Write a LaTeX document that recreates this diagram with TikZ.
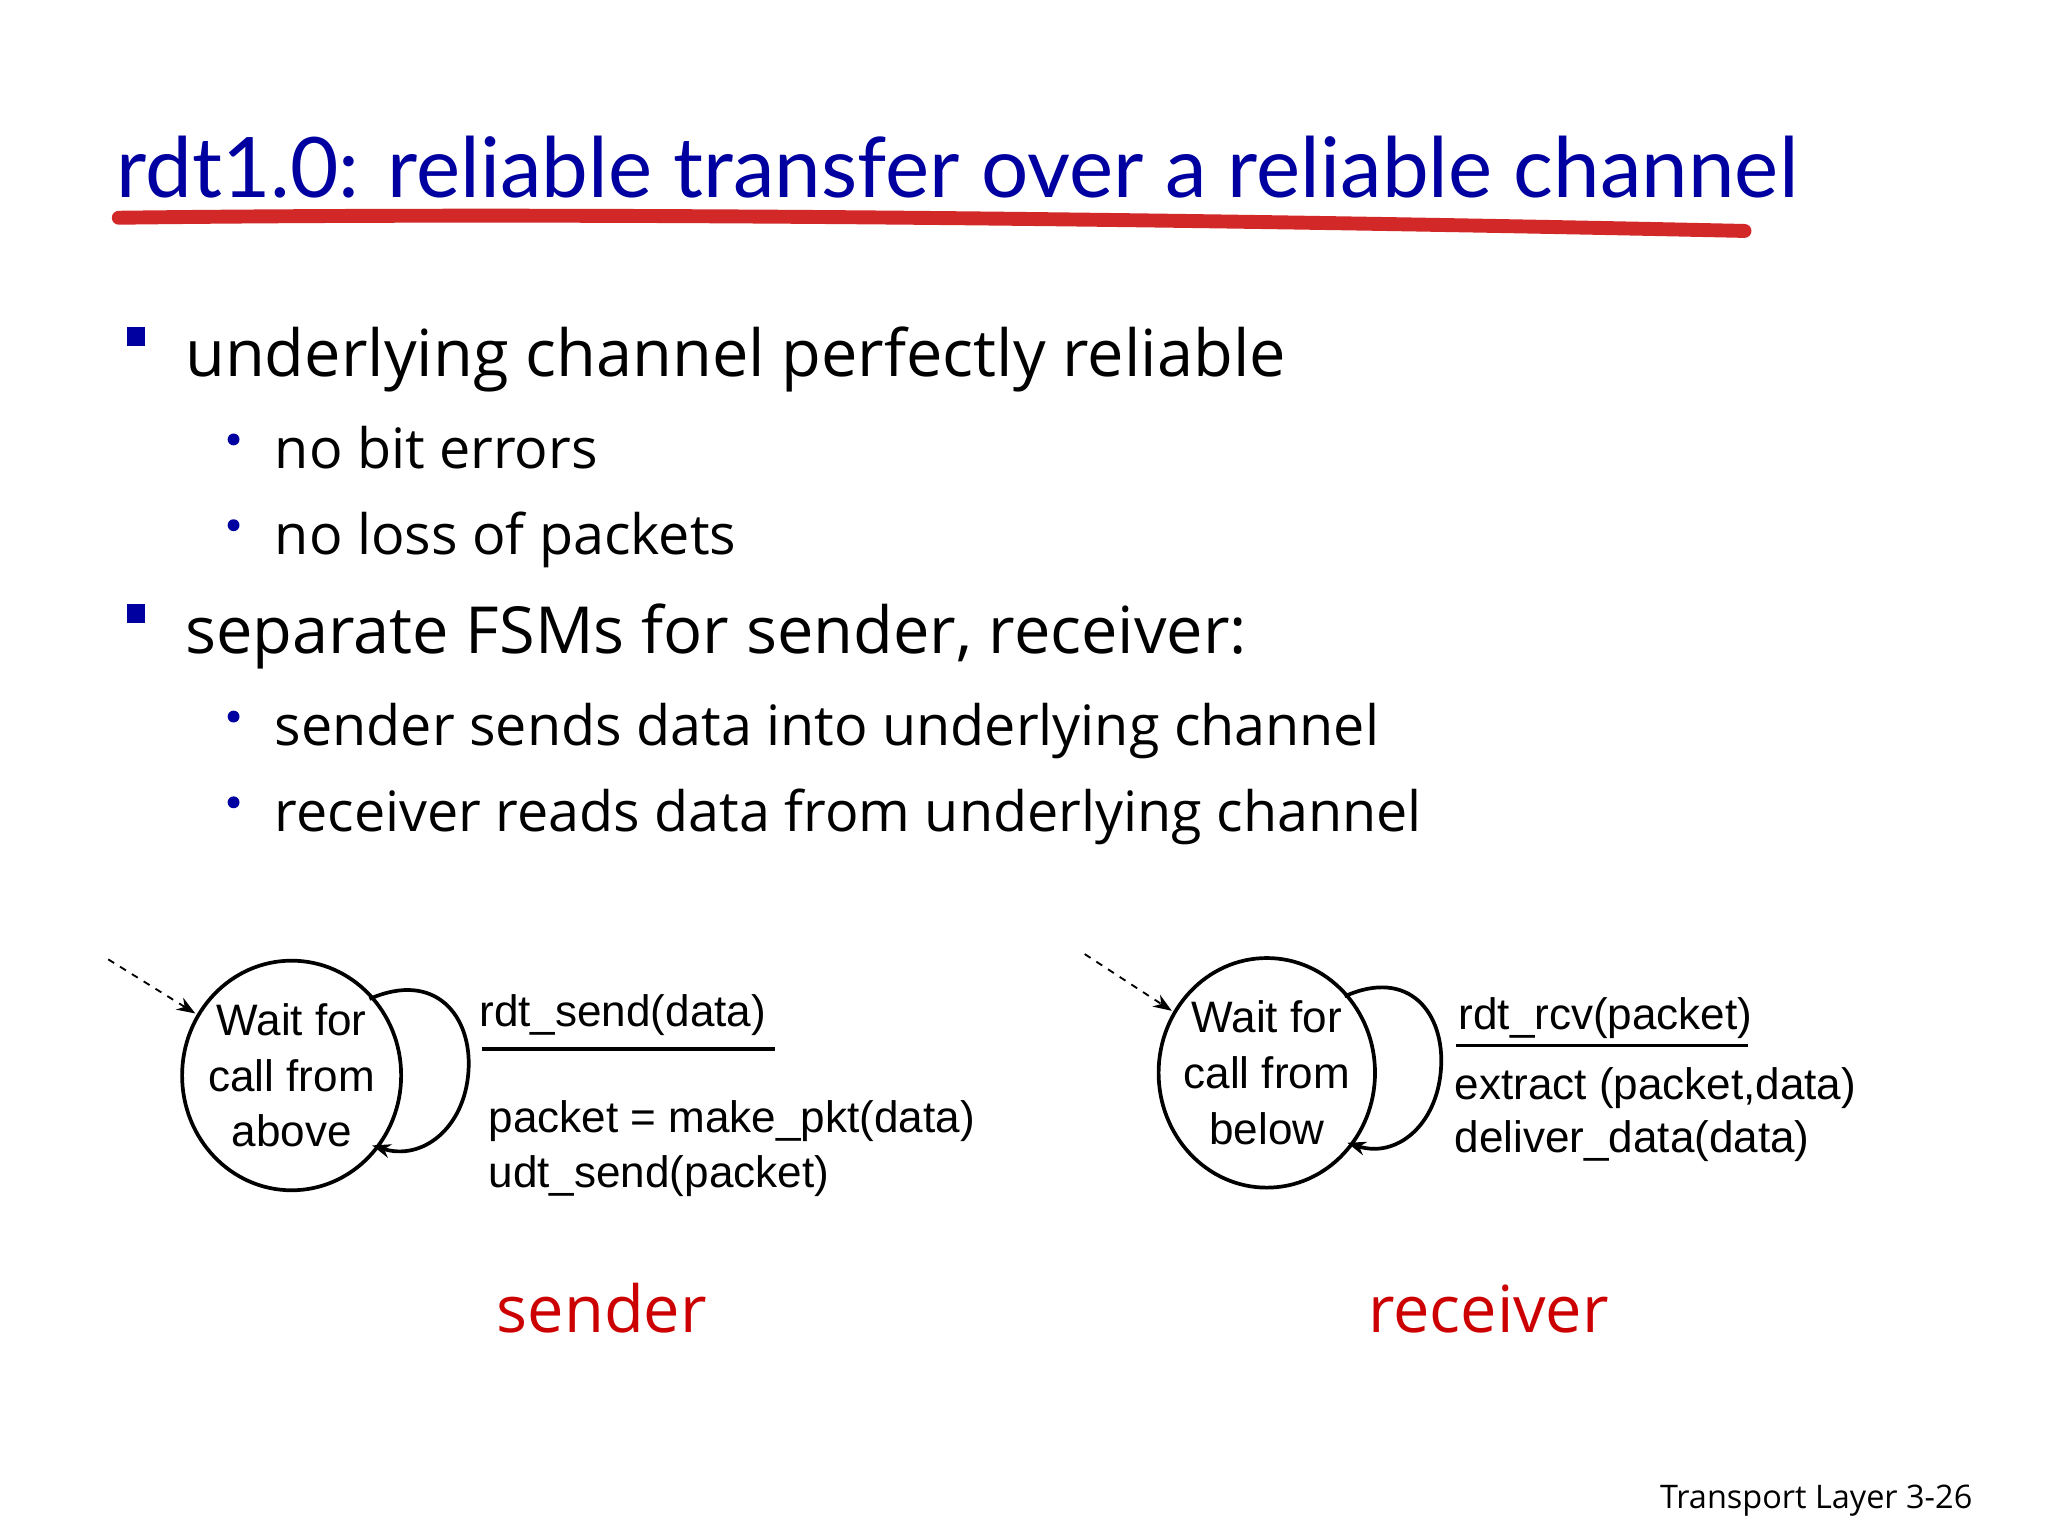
\documentclass[tikz,border=0pt]{standalone}
\usepackage{fontspec}
\setmainfont{Open Sans}
\newfontfamily\titlefont{Lato}
\newfontfamily\arialf{Liberation Sans}
\usetikzlibrary{arrows.meta}
\definecolor{tblue}{RGB}{0,0,160}
\definecolor{tred}{RGB}{204,0,0}
\definecolor{ured}{RGB}{210,40,40}
\begin{document}
\begin{tikzpicture}[x=0.02cm,y=-0.02cm,
  txt/.style={inner sep=0pt,anchor=base west},
  big/.style={txt,font=\fontsize{28}{30}\selectfont},
  sub/.style={txt,font=\fontsize{24}{26}\selectfont},
  fsm/.style={txt,font=\arialf\fontsize{19}{22}\selectfont},
  state/.style={draw,line width=1.6pt,ellipse,minimum width=166\pgflinewidth,inner sep=0pt},
  sq/.style={fill=tblue,minimum size=14*0.02cm,inner sep=0pt},
  dot/.style={circle,fill=tblue,minimum size=9*0.02cm,inner sep=0pt},
  loop/.style={line width=1.6pt,-{Stealth[length=8pt,width=6pt]}},
  init/.style={dashed,line width=0.8pt,-{Stealth[length=8pt,width=6pt]}}]
\useasboundingbox (0,0) rectangle (1552,1164);
\fill[white] (0,0) rectangle (1552,1164);
\node[txt,text=tblue,font=\titlefont\fontsize{36}{40}\selectfont] (title) at (88,150) {rdt1.0: reliable transfer over a reliable channel};
\draw[ured,line width=6pt,line cap=round] (90,165) .. controls (500,160) and (1000,168) .. (1322,175);
\node[sq] (s1) at (103,255) {};
\node[big] (b1) at (140,285) {underlying channel perfectly reliable};
\node[dot] (d1) at (177,333) {};
\node[sub] (t1) at (208,355) {no bit errors};
\node[dot] (d2) at (177,398) {};
\node[sub] (t2) at (208,420) {no loss of packets};
\node[sq] (s2) at (103,465) {};
\node[big] (b2) at (140,495) {separate FSMs for sender, receiver:};
\node[dot] (d3) at (177,543) {};
\node[sub] (t3) at (208,565) {sender sends data into underlying channel};
\node[dot] (d4) at (177,608) {};
\node[sub] (t4) at (208,630) {receiver reads data from underlying channel};
% sender
\draw[line width=1.6pt] (221,815) ellipse [x radius=83, y radius=87];
\node[font=\arialf\fontsize{19}{24}\selectfont,align=center] (sA) at (221,815) {Wait for\\call from\\above};
\draw[loop] (280,757) .. controls (330,735) and (358,770) .. (355,812) .. controls (352,855) and (320,880) .. (282,868);
\coordinate (sI) at (82,727);
\draw[init] (sI) -- (148,768);
\node[fsm] (se) at (363,778) {rdt\_send(data)};
\draw[line width=1.4pt] (365,795) -- (587,795);
\node[fsm] (sa1) at (370,858) {packet = make\_pkt(data)};
\node[fsm] (sa2) at (370,900) {udt\_send(packet)};
% receiver
\draw[line width=1.6pt] (960,813) ellipse [x radius=82, y radius=87];
\node[font=\arialf\fontsize{19}{24}\selectfont,align=center] (rA) at (960,813) {Wait for\\call from\\below};
\draw[loop] (1019,755) .. controls (1068,733) and (1095,768) .. (1092,810) .. controls (1089,853) and (1058,878) .. (1021,866);
\coordinate (rI) at (822,723);
\draw[init] (rI) -- (888,766);
\node[fsm] (re) at (1105,780) {rdt\_rcv(packet)};
\draw[line width=1.4pt] (1103,792) -- (1325,792);
\node[fsm] (ra1) at (1102,833) {extract (packet,data)};
\node[fsm] (ra2) at (1102,873) {deliver\_data(data)};
\node[inner sep=0pt,anchor=base,text=tred,font=\fontsize{28}{30}\selectfont] (sl) at (456,1010) {sender};
\node[inner sep=0pt,anchor=base,text=tred,font=\fontsize{28}{30}\selectfont] (rl) at (1128,1010) {receiver};
\node[inner sep=0pt,anchor=base east,font=\fontsize{14}{16}\selectfont] (ft) at (1495,1143) {Transport Layer 3-26};
\end{tikzpicture}
\end{document}
